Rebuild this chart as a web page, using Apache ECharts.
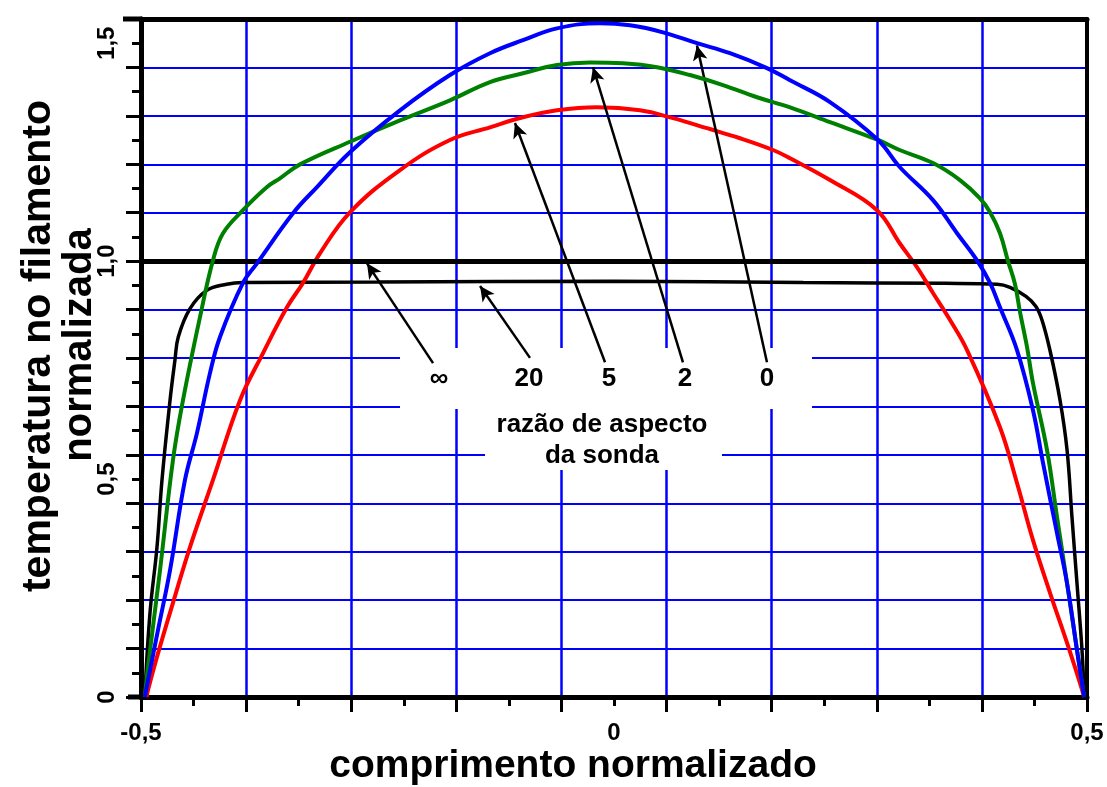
<!DOCTYPE html>
<html>
<head>
<meta charset="utf-8">
<script src="https://cdn.jsdelivr.net/npm/echarts@6/dist/echarts.min.js"></script>
<style>
html,body{margin:0;padding:0;background:#fff;}
#chart{width:1107px;height:787px;}
</style>
</head>
<body>
<div id="chart"></div>
<script>
// ---- data (normalized length x, normalized filament temperature y) ----
const blackX = [-0.496, -0.4905, -0.4831, -0.4778, -0.4693, -0.4641, -0.4606, -0.4482, -0.4305, -0.4094, -0.3922, -0.25, 0, 0.2, 0.35, 0.4049, 0.4186, 0.4355, 0.4460, 0.4524, 0.4609, 0.4715, 0.4789, 0.4841, 0.4894, 0.4947, 0.497];
const blackY = [0, 0.193, 0.344, 0.498, 0.681, 0.773, 0.826, 0.891, 0.933, 0.947, 0.951, 0.952, 0.954, 0.951, 0.949, 0.947, 0.940, 0.919, 0.896, 0.865, 0.795, 0.681, 0.567, 0.413, 0.261, 0.108, 0];

const redX = [-0.494, -0.4926, -0.4831, -0.4662, -0.4482, -0.4239, -0.3953, -0.3710, -0.3457, -0.3288, -0.3108, -0.2791, -0.2262, -0.1734, -0.1311, -0.0962, -0.0603, -0.0180, 0.0275, 0.0624, 0.0983, 0.1332, 0.1681, 0.1861, 0.2283, 0.2780, 0.3020, 0.3203, 0.3372, 0.3552, 0.3732, 0.4080, 0.4260, 0.4429, 0.4609, 0.4789, 0.4926, 0.497];
const redY = [0, 0.016, 0.092, 0.216, 0.344, 0.498, 0.681, 0.789, 0.894, 0.950, 1.018, 1.112, 1.209, 1.278, 1.307, 1.330, 1.346, 1.353, 1.346, 1.328, 1.305, 1.282, 1.255, 1.236, 1.186, 1.117, 1.041, 0.986, 0.927, 0.865, 0.796, 0.619, 0.491, 0.360, 0.239, 0.124, 0.032, 0];

const greenX = [-0.496, -0.4926, -0.4799, -0.4662, -0.4556, -0.4376, -0.4239, -0.4133, -0.3922, -0.3668, -0.3531, -0.3319, -0.2791, -0.2262, -0.1734, -0.1311, -0.0962, -0.0603, -0.0254, 0.0095, 0.0455, 0.0803, 0.1152, 0.1512, 0.1861, 0.2283, 0.2791, 0.3020, 0.3372, 0.3657, 0.3869, 0.3975, 0.4080, 0.4165, 0.4239, 0.4292, 0.4366, 0.4429, 0.4577, 0.4683, 0.4789, 0.4894, 0.497];
const greenY = [0, 0.069, 0.291, 0.544, 0.681, 0.872, 1.002, 1.064, 1.117, 1.170, 1.190, 1.222, 1.274, 1.323, 1.369, 1.411, 1.431, 1.450, 1.456, 1.454, 1.445, 1.427, 1.404, 1.376, 1.353, 1.319, 1.278, 1.255, 1.225, 1.186, 1.144, 1.112, 1.064, 1.000, 0.947, 0.883, 0.803, 0.720, 0.567, 0.413, 0.261, 0.108, 0];

const blueX = [-0.496, -0.4820, -0.4693, -0.4535, -0.4408, -0.4271, -0.4165, -0.3922, -0.3774, -0.3393, -0.3140, -0.2791, -0.2262, -0.1734, -0.1311, -0.0962, -0.0603, -0.0148, 0.0169, 0.0518, 0.0877, 0.1226, 0.1617, 0.1861, 0.2283, 0.2791, 0.3020, 0.3372, 0.3626, 0.3837, 0.3975, 0.4080, 0.4260, 0.4429, 0.4535, 0.4683, 0.4789, 0.4894, 0.497];
const blueY = [0, 0.154, 0.291, 0.498, 0.606, 0.743, 0.826, 0.950, 0.995, 1.110, 1.170, 1.250, 1.346, 1.427, 1.477, 1.507, 1.534, 1.546, 1.541, 1.525, 1.500, 1.477, 1.443, 1.415, 1.365, 1.278, 1.216, 1.140, 1.064, 1.002, 0.950, 0.894, 0.796, 0.658, 0.537, 0.376, 0.261, 0.108, 0];

// tick labels
const xTickLabels = { '-0.5': '-0,5', '0': '0', '0.5': '0,5' };
const yTickLabels = { '0': '0', '0.5': '0,5', '1': '1,0', '1.5': '1,5' };

// annotation: aspect-ratio labels and arrows (tail -> tip, in data units)
const aspectLabels = ['\u221E', '20', '5', '2', '0'];
const arrowTailX = [-0.1913, -0.0888, -0.0095, 0.0729, 0.1617];
const arrowTailY = [0.766, 0.778, 0.768, 0.768, 0.768];
const arrowTipX = [-0.2611, -0.1416, -0.1047, -0.0222, 0.0877];
const arrowTipY = [0.995, 0.943, 1.317, 1.445, 1.495];

const referenceLevel = 1.0;
const yMax = 14 / 9;

function zip(xs, ys) { return xs.map((x, i) => [x, ys[i]]); }

const FONT = '"Liberation Sans", Arial, Helvetica, sans-serif';
const chart = echarts.init(document.getElementById('chart'), null, { renderer: 'canvas' });

function fmt(map) {
  return function (v) {
    const k = String(Math.round(v * 1000) / 1000);
    return map.hasOwnProperty(k) ? map[k] : '';
  };
}

const lineCommon = {
  type: 'line', xAxisIndex: 1, yAxisIndex: 1, showSymbol: false, symbol: 'none',
  smooth: 0.4, silent: true, animation: false
};

const option = {
  animation: false,
  backgroundColor: '#fff',
  grid: { left: 141, right: 20, top: 19, bottom: 90, containLabel: false },
  xAxis: [
    {
      type: 'value', min: 0, max: 18, interval: 2, position: 'bottom',
      axisLine: { show: true, onZero: false, lineStyle: { color: '#000', width: 5 } },
      axisTick: { show: true, length: 15, lineStyle: { color: '#000', width: 3 } },
      minorTick: { show: true, splitNumber: 2, length: 9, lineStyle: { color: '#000', width: 3 } },
      splitLine: { show: true, lineStyle: { color: '#0000ff', width: 2.5 } },
      axisLabel: { show: false }
    },
    {
      type: 'value', min: -0.5, max: 0.5, interval: 0.5, position: 'bottom',
      axisLine: { show: false }, axisTick: { show: false }, splitLine: { show: false },
      axisLabel: { show: true, margin: 24, color: '#000', fontSize: 24, fontWeight: 'bold', fontFamily: FONT, formatter: fmt(xTickLabels) }
    },
    {
      type: 'value', min: 0, max: 1, position: 'top',
      axisLine: { show: true, onZero: false, lineStyle: { color: '#000', width: 5 } },
      axisTick: { show: false }, axisLabel: { show: false }, splitLine: { show: false }
    }
  ],
  yAxis: [
    {
      type: 'value', min: 0, max: 28, interval: 2, position: 'left',
      axisLine: { show: true, onZero: false, lineStyle: { color: '#000', width: 5 } },
      axisTick: { show: true, length: 15, lineStyle: { color: '#000', width: 3 } },
      minorTick: { show: true, splitNumber: 2, length: 9, lineStyle: { color: '#000', width: 3 } },
      splitLine: { show: true, lineStyle: { color: '#0000ff', width: 2 } },
      axisLabel: { show: false }
    },
    {
      type: 'value', min: 0, max: yMax, interval: 0.5, position: 'left',
      axisLine: { show: false }, axisTick: { show: false }, splitLine: { show: false },
      axisLabel: { show: true, rotate: 90, margin: 22, color: '#000', fontSize: 24, fontWeight: 'bold', fontFamily: FONT, formatter: fmt(yTickLabels), showMaxLabel: false }
    },
    {
      type: 'value', min: 0, max: 1, position: 'right',
      axisLine: { show: true, onZero: false, lineStyle: { color: '#000', width: 4 } },
      axisTick: { show: false }, axisLabel: { show: false }, splitLine: { show: false }
    }
  ],
  series: [
    Object.assign({}, lineCommon, {
      name: '\u221E', data: zip(blackX, blackY), z: 3,
      lineStyle: { color: '#000', width: 3.5 },
      markLine: {
        silent: true, symbol: ['none', 'none'], animation: false,
        label: { show: false },
        lineStyle: { color: '#000', width: 5, type: 'solid' },
        data: [{ yAxis: referenceLevel }]
      }
    }),
    Object.assign({}, lineCommon, { name: '5', data: zip(redX, redY), z: 4, lineStyle: { color: '#ff0000', width: 4 } }),
    Object.assign({}, lineCommon, { name: '2', data: zip(greenX, greenY), z: 5, lineStyle: { color: '#008000', width: 4 } }),
    Object.assign({}, lineCommon, { name: '0', data: zip(blueX, blueY), z: 6, lineStyle: { color: '#0000ff', width: 4 } }),
    {
      type: 'line', name: 'arrows', xAxisIndex: 1, yAxisIndex: 1, data: [], z: 10, silent: true,
      markLine: {
        silent: true, animation: false,
        symbol: ['none', 'arrow'], symbolSize: [11, 15],
        label: { show: false },
        lineStyle: { color: '#000', width: 2.5, type: 'solid' },
        data: arrowTailX.map((x, i) => [
          { coord: [x, arrowTailY[i]] },
          { coord: [arrowTipX[i], arrowTipY[i]] }
        ])
      }
    }
  ],
  graphic: [
    { type: 'line', z: 5, silent: true, shape: { x1: 123, y1: 19, x2: 142, y2: 19 }, style: { stroke: '#000', lineWidth: 5 } },
    { type: 'line', z: 5, silent: true, shape: { x1: 128, y1: 697, x2: 142, y2: 697 }, style: { stroke: '#000', lineWidth: 5 } },
    { type: 'rect', z: 1, silent: true, shape: { x: 400, y: 348, width: 412, height: 61 }, style: { fill: '#fff' } },
    { type: 'rect', z: 1, silent: true, shape: { x: 485, y: 409, width: 237, height: 61 }, style: { fill: '#fff' } },
    { type: 'text', z: 20, x: 439, y: 379, style: { text: aspectLabels[0], font: 'bold 26px ' + FONT, fill: '#000', textAlign: 'center', textVerticalAlign: 'middle' } },
    { type: 'text', z: 20, x: 529, y: 379, style: { text: aspectLabels[1], font: 'bold 26px ' + FONT, fill: '#000', textAlign: 'center', textVerticalAlign: 'middle' } },
    { type: 'text', z: 20, x: 609, y: 379, style: { text: aspectLabels[2], font: 'bold 26px ' + FONT, fill: '#000', textAlign: 'center', textVerticalAlign: 'middle' } },
    { type: 'text', z: 20, x: 685, y: 379, style: { text: aspectLabels[3], font: 'bold 26px ' + FONT, fill: '#000', textAlign: 'center', textVerticalAlign: 'middle' } },
    { type: 'text', z: 20, x: 767, y: 379, style: { text: aspectLabels[4], font: 'bold 26px ' + FONT, fill: '#000', textAlign: 'center', textVerticalAlign: 'middle' } },
    { type: 'text', z: 20, x: 602, y: 425, style: { text: 'razão de aspecto', font: 'bold 26px ' + FONT, fill: '#000', textAlign: 'center', textVerticalAlign: 'middle' } },
    { type: 'text', z: 20, x: 602, y: 456, style: { text: 'da sonda', font: 'bold 26px ' + FONT, fill: '#000', textAlign: 'center', textVerticalAlign: 'middle' } },
    { type: 'text', z: 20, x: 573, y: 766, style: { text: 'comprimento normalizado', font: 'bold 39px ' + FONT, fill: '#000', textAlign: 'center', textVerticalAlign: 'middle' } },
    { type: 'text', z: 20, x: 39, y: 346, rotation: Math.PI / 2, style: { text: 'temperatura no filamento', font: 'bold 41px ' + FONT, fill: '#000', textAlign: 'center', textVerticalAlign: 'middle' } },
    { type: 'text', z: 20, x: 80, y: 345, rotation: Math.PI / 2, style: { text: 'normalizada', font: 'bold 40px ' + FONT, fill: '#000', textAlign: 'center', textVerticalAlign: 'middle' } }
  ]
};
chart.setOption(option);
</script>
</body>
</html>
